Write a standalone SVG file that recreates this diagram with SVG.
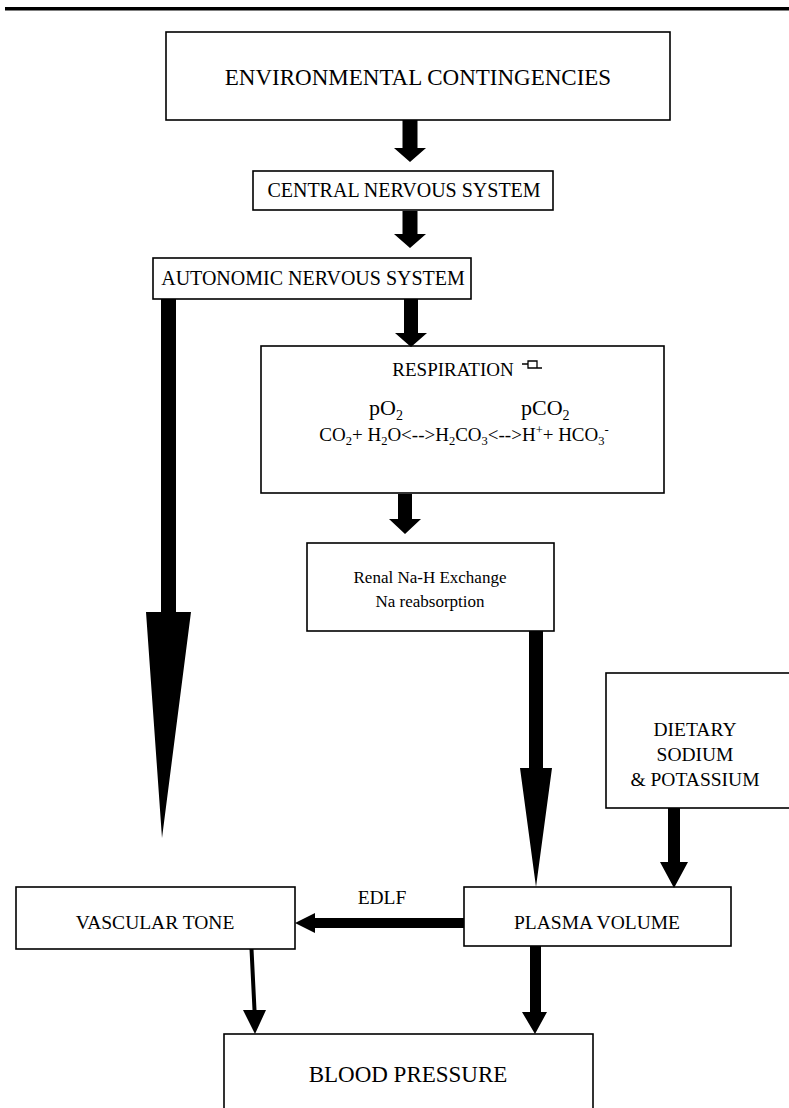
<svg xmlns="http://www.w3.org/2000/svg" width="789" height="1108" viewBox="0 0 789 1108">
<style>
.box{fill:#fff;stroke:#000;stroke-width:1.6}
.t{font-family:"Liberation Serif","Times New Roman",serif;fill:#000}
.c{text-anchor:middle}
.arr{fill:#000;stroke:none}
</style>
<rect x="0" y="0" width="789" height="1108" fill="#fff"/>
<rect x="5" y="7" width="784" height="3.5" fill="#000"/>

<g id="env">
<rect class="box" x="166" y="32" width="504" height="88"/>
<text class="t c" x="418" y="85" font-size="23">ENVIRONMENTAL CONTINGENCIES</text>
</g>
<g id="cns">
<rect class="box" x="253" y="171" width="300" height="39"/>
<text class="t c" x="404" y="197" font-size="20">CENTRAL NERVOUS SYSTEM</text>
</g>
<g id="ans">
<rect class="box" x="153" y="258" width="318" height="41"/>
<text class="t c" x="313" y="285" font-size="20">AUTONOMIC NERVOUS SYSTEM</text>
</g>
<g id="resp">
<rect class="box" x="261" y="346" width="403" height="147"/>
<text class="t c" x="453" y="376" font-size="19">RESPIRATION</text>
<path d="M522,364 H528 M528,361 H537 V368 H528 Z M537,368 H542" fill="none" stroke="#000" stroke-width="1.3"/>
<text class="t" x="369" y="415" font-size="22">pO<tspan font-size="14" dy="5">2</tspan></text>
<text class="t" x="521" y="415" font-size="22">pCO<tspan font-size="14" dy="5">2</tspan></text>
<text class="t c" x="464" y="441" font-size="19">CO<tspan font-size="12.5" dy="4">2</tspan><tspan dy="-4">+ H</tspan><tspan font-size="12.5" dy="4">2</tspan><tspan dy="-4">O&lt;--&gt;H</tspan><tspan font-size="12.5" dy="4">2</tspan><tspan dy="-4">CO</tspan><tspan font-size="12.5" dy="4">3</tspan><tspan dy="-4">&lt;--&gt;H</tspan><tspan font-size="12.5" dy="-7">+</tspan><tspan dy="7">+ HCO</tspan><tspan font-size="12.5" dy="4">3</tspan><tspan font-size="12.5" dy="-11">-</tspan></text>
</g>
<g id="renal">
<rect class="box" x="307" y="543" width="247" height="88"/>
<text class="t c" x="430" y="583" font-size="17">Renal Na-H Exchange</text>
<text class="t c" x="430" y="607" font-size="17">Na reabsorption</text>
</g>
<g id="diet">
<rect class="box" x="606" y="673" width="200" height="135"/>
<text class="t c" x="695" y="736" font-size="19.5">DIETARY</text>
<text class="t c" x="695" y="761" font-size="19.5">SODIUM</text>
<text class="t c" x="695" y="786" font-size="19.5">&amp; POTASSIUM</text>
</g>
<g id="vasc">
<rect class="box" x="16" y="887" width="279" height="62"/>
<text class="t c" x="155" y="929" font-size="19.5">VASCULAR TONE</text>
</g>
<g id="plasma">
<rect class="box" x="464" y="887" width="267" height="59"/>
<text class="t c" x="597" y="929" font-size="19.5">PLASMA VOLUME</text>
</g>
<g id="bp">
<rect class="box" x="224" y="1034" width="369" height="90"/>
<text class="t c" x="408" y="1082" font-size="23">BLOOD PRESSURE</text>
</g>

<g id="connectors">
<polygon class="arr" points="402.5,120 417.5,120 417.5,148 426,148 410,162 394,148 402.5,148"/>
<polygon class="arr" points="402.5,211 417.5,211 417.5,234 426,234 410,248 394,234 402.5,234"/>
<polygon class="arr" points="404,299 418,299 418,333 427,333 411,347 395,333 404,333"/>
<polygon class="arr" points="398,494 412,494 412,519 421,519 405,534 389,519 398,519"/>
<polygon class="arr" points="161,299 176,299 176,612 191,612 162,838 146,612 161,612"/>
<polygon class="arr" points="529,631 543,631 543,768 552,768 536,887 520,768 529,768"/>
<polygon class="arr" points="668,808 680,808 680,862 688,862 674,888 660,862 668,862"/>
<polygon class="arr" points="464,918 464,928 315,928 315,933 295,923 315,913 315,918"/>
<polygon class="arr" points="249.5,949 253.5,949 256.5,1010 266,1010 255,1034 243,1010 252.5,1010"/>
<polygon class="arr" points="530,946 541,946 541,1012 547,1012 535,1034 522,1012 530,1012"/>
<text class="t c" x="382" y="904" font-size="19.5">EDLF</text>
</g>
</svg>
